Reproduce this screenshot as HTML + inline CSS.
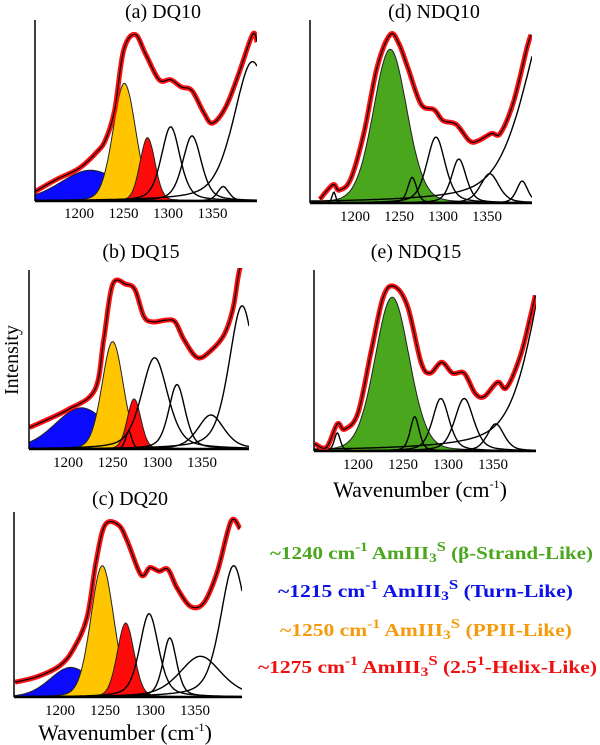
<!DOCTYPE html>
<html><head><meta charset="utf-8">
<style>
html,body{margin:0;padding:0;background:#fff;}
svg{display:block;font-family:"Liberation Serif",serif;}
</style></head>
<body>
<svg id="fig" width="600" height="745" viewBox="0 0 600 745">
  <text x="163" y="18" font-size="20" text-anchor="middle">(a) DQ10</text>
  <text x="141" y="258" font-size="20" text-anchor="middle">(b) DQ15</text>
  <text x="130" y="505" font-size="20" text-anchor="middle">(c) DQ20</text>
  <text x="434" y="18" font-size="20" text-anchor="middle">(d) NDQ10</text>
  <text x="416" y="258" font-size="20" text-anchor="middle">(e) NDQ15</text>
  <text transform="translate(18,360) rotate(-90)" font-size="20" text-anchor="middle">Intensity</text>
  <text x="125" y="740" font-size="22" text-anchor="middle">Wavenumber (cm<tspan font-size="12" dy="-9">-1</tspan><tspan dy="9">)</tspan></text>
  <text x="420" y="497" font-size="22" text-anchor="middle">Wavenumber (cm<tspan font-size="12" dy="-9">-1</tspan><tspan dy="9">)</tspan></text>
  <g font-weight="bold" font-size="18">
    <text x="270" y="559" fill="#4aa61c" textLength="323" lengthAdjust="spacingAndGlyphs">~1240 cm<tspan font-size="13" dy="-8">-1</tspan><tspan dy="8"> AmIII</tspan><tspan font-size="13" dy="3">3</tspan><tspan font-size="14" dy="-11">S</tspan><tspan dy="8"> (β-Strand-Like)</tspan></text>
    <text x="278" y="597" fill="#0a10e6" textLength="295" lengthAdjust="spacingAndGlyphs">~1215 cm<tspan font-size="13" dy="-8">-1</tspan><tspan dy="8"> AmIII</tspan><tspan font-size="13" dy="3">3</tspan><tspan font-size="14" dy="-11">S</tspan><tspan dy="8"> (Turn-Like)</tspan></text>
    <text x="280" y="636" fill="#f59a0c" textLength="292" lengthAdjust="spacingAndGlyphs">~1250 cm<tspan font-size="13" dy="-8">-1</tspan><tspan dy="8"> AmIII</tspan><tspan font-size="13" dy="3">3</tspan><tspan font-size="14" dy="-11">S</tspan><tspan dy="8"> (PPII-Like)</tspan></text>
    <text x="258" y="673" fill="#f01010" textLength="339" lengthAdjust="spacingAndGlyphs">~1275 cm<tspan font-size="13" dy="-8">-1</tspan><tspan dy="8"> AmIII</tspan><tspan font-size="13" dy="3">3</tspan><tspan font-size="14" dy="-11">S</tspan><tspan dy="8"> (2.5</tspan><tspan font-size="13" dy="-8">1</tspan><tspan dy="8">-Helix-Like)</tspan></text>
  </g>
</svg>
<script>
// ---- data (wavenumber / relative intensity 0-100) ----
const aSpecX=[1150,1175,1200,1220,1230,1240,1250,1263,1275,1290,1303,1315,1327,1340,1350,1365,1380,1395,1400];
const aSpecY=[5,12,18,27,34,50,83,92,81,67,67,63,61,49,43,52,71,92,88];
const aPeakC=[1213,1251,1277,1303,1327,1362,1395];
const aPeakH=[17,65,35,41,36,8,77];
const aPeakW=[80,30,20,25,25,15,50];
const aPeakType=['blue','yellow','red','k','k','k','k'];

const bSpecX=[1157,1200,1230,1240,1250,1265,1275,1285,1295,1310,1320,1330,1345,1360,1375,1385,1392,1400];
const bSpecY=[12,22,33,61,92,92,89,74,71,72,71,61,51,55,64,79,100,110];
const bPeakC=[1215,1250,1274,1268,1297,1322,1360,1395];
const bPeakH=[23,60,28,10,51,36,19,80];
const bPeakW=[70,28,18,8,35,22,35,35];
const bPeakType=['blue','yellow','red','k','k','k','k','k'];

const cSpecX=[1150,1175,1200,1215,1230,1240,1250,1265,1275,1290,1300,1310,1320,1330,1345,1360,1375,1390,1400];
const cSpecY=[8,11,17,26,43,73,93,93,84,66,70,68,69,59,49,51,68,95,91];
const cPeakC=[1212,1247,1273,1299,1322,1356,1393];
const cPeakH=[16,71,40,45,32,22,71];
const cPeakW=[55,30,22,25,18,55,35];
const cPeakType=['blue','yellow','red','k','k','k','k'];

const dSpecX=[1160,1175,1182,1195,1210,1225,1240,1250,1260,1275,1290,1300,1315,1330,1340,1355,1365,1380,1395,1400];
const dSpecY=[2,10,7,13,38,74,92,87,74,54,51,45,43,34,34,38,38,55,84,92];
const dPeakC=[1240,1176,1265,1292,1318,1353,1390,1430];
const dPeakH=[84,6,14,36,24,16,12,118];
const dPeakW=[45,5,12,25,20,25,15,80];
const dPeakType=['green','k','k','k','k','k','k','k'];

const eSpecX=[1152,1165,1177,1185,1200,1215,1228,1240,1255,1270,1280,1293,1305,1318,1330,1340,1355,1365,1380,1390,1397];
const eSpecY=[4,2,15,12,21,56,85,91,80,49,43,49,43,43,32,30,38,35,52,71,86];
const ePeakC=[1238,1177,1263,1292,1318,1353,1430];
const ePeakH=[85,10,19,29,29,15,148];
const ePeakW=[45,8,12,22,25,22,70];
const ePeakType=['green','k','k','k','k','k','k'];

const tickValues=[1200,1250,1300,1350];

// ---- layout ----
const panels=[
 {id:'a',left:35,right:257,top:20,base:201,x0:1200,px0:79,ppu:0.89,lab:218,sx:aSpecX,sy:aSpecY,pc:aPeakC,ph:aPeakH,pw:aPeakW,pt:aPeakType},
 {id:'b',left:29,right:249,top:270,base:449,x0:1200,px0:68,ppu:0.893,lab:467,sx:bSpecX,sy:bSpecY,pc:bPeakC,ph:bPeakH,pw:bPeakW,pt:bPeakType},
 {id:'c',left:14,right:242,top:512,base:697,x0:1200,px0:60,ppu:0.9,lab:715,sx:cSpecX,sy:cSpecY,pc:cPeakC,ph:cPeakH,pw:cPeakW,pt:cPeakType},
 {id:'d',left:310,right:532,top:20,base:203,x0:1200,px0:355,ppu:0.88,lab:221,sx:dSpecX,sy:dSpecY,pc:dPeakC,ph:dPeakH,pw:dPeakW,pt:dPeakType},
 {id:'e',left:314,right:536,top:270,base:451,x0:1200,px0:358,ppu:0.9,lab:469,sx:eSpecX,sy:eSpecY,pc:ePeakC,ph:ePeakH,pw:ePeakW,pt:ePeakType}
];
const fills={blue:'#0a0aff',yellow:'#ffc600',red:'#ff0a0a',green:'#4aa61c'};
const NS='http://www.w3.org/2000/svg';
const svg=document.getElementById('fig');
function mk(tag,attrs,parent){const e=document.createElementNS(NS,tag);for(const k in attrs)e.setAttribute(k,attrs[k]);(parent||svg).appendChild(e);return e;}

panels.forEach(p=>{
  const xs=v=>p.px0+(v-p.x0)*p.ppu;
  const ys=v=>p.base-(v/100)*(p.base-p.top);
  const vmin=p.x0+(p.left-p.px0)/p.ppu, vmax=p.x0+(p.right-p.px0)/p.ppu;
  const g=mk('g',{});
  
  
  const clipId='clip'+p.id;
  const cp=mk('clipPath',{id:clipId},g);
  mk('rect',{x:p.left,y:p.top-2,width:p.right-p.left,height:p.base-p.top+3},cp);
  const pg=mk('g',{'clip-path':'url(#'+clipId+')'},g);
  const order=p.pt.map((t,i)=>i).sort((i,j)=>(p.pt[i]==='k')-(p.pt[j]==='k'));
  order.forEach(i=>{
    const c=p.pc[i],h=p.ph[i],w=p.pw[i],s=w/2.3548,t=p.pt[i];
    const eta=t==='k'?0.45:0.15;
    let d='';
    const N=220;
    for(let k=0;k<=N;k++){
      const v=vmin+(vmax-vmin)*k/N;
      const G=Math.exp(-((v-c)*(v-c))/(2*s*s));
      const L=1/(1+4*(v-c)*(v-c)/(w*w));
      const y=h*((1-eta)*G+eta*L);
      d+=(k?'L':'M')+xs(v).toFixed(1)+','+ys(y).toFixed(1);
    }
    if(t!=='k'){
      const f=mk('path',{d:d+'L'+xs(vmax)+','+p.base+'L'+xs(vmin)+','+p.base+'Z',fill:fills[t],stroke:'#222','stroke-width':1},pg);
      
      
    } else {
      const l=mk('path',{d:d,fill:'none',stroke:'#000','stroke-width':1.4},pg);
      
      
    }
  });
  const pts=p.sx.map((v,i)=>[xs(v),ys(p.sy[i])]);
  let d='M'+pts[0][0]+','+pts[0][1];
  for(let i=0;i<pts.length-1;i++){
    const p0=pts[i-1]||pts[i],p1=pts[i],p2=pts[i+1],p3=pts[i+2]||p2;
    d+='C'+(p1[0]+(p2[0]-p0[0])/6).toFixed(1)+','+(p1[1]+(p2[1]-p0[1])/6).toFixed(1)+' '+(p2[0]-(p3[0]-p1[0])/6).toFixed(1)+','+(p2[1]-(p3[1]-p1[1])/6).toFixed(1)+' '+p2[0].toFixed(1)+','+p2[1].toFixed(1);
  }
  const red=mk('path',{d:d,fill:'none',stroke:'#ff1010','stroke-width':5},pg);
  
  
  const fit=mk('path',{d:d,fill:'none',stroke:'#000','stroke-width':1.2},pg);
  
  
  const ya=mk('line',{x1:p.left,y1:p.top,x2:p.left,y2:p.base,stroke:'#000','stroke-width':1.5},g);
  
  
  const xa=mk('line',{x1:p.left,y1:p.base,x2:p.right,y2:p.base,stroke:'#000','stroke-width':2.5},g);
  
  
  tickValues.forEach(v=>{
    const t=mk('text',{x:xs(v),y:p.lab,'font-size':15,'text-anchor':'middle'},g);
    t.textContent=v;
    
    
  });
});
</script>
</body></html>
